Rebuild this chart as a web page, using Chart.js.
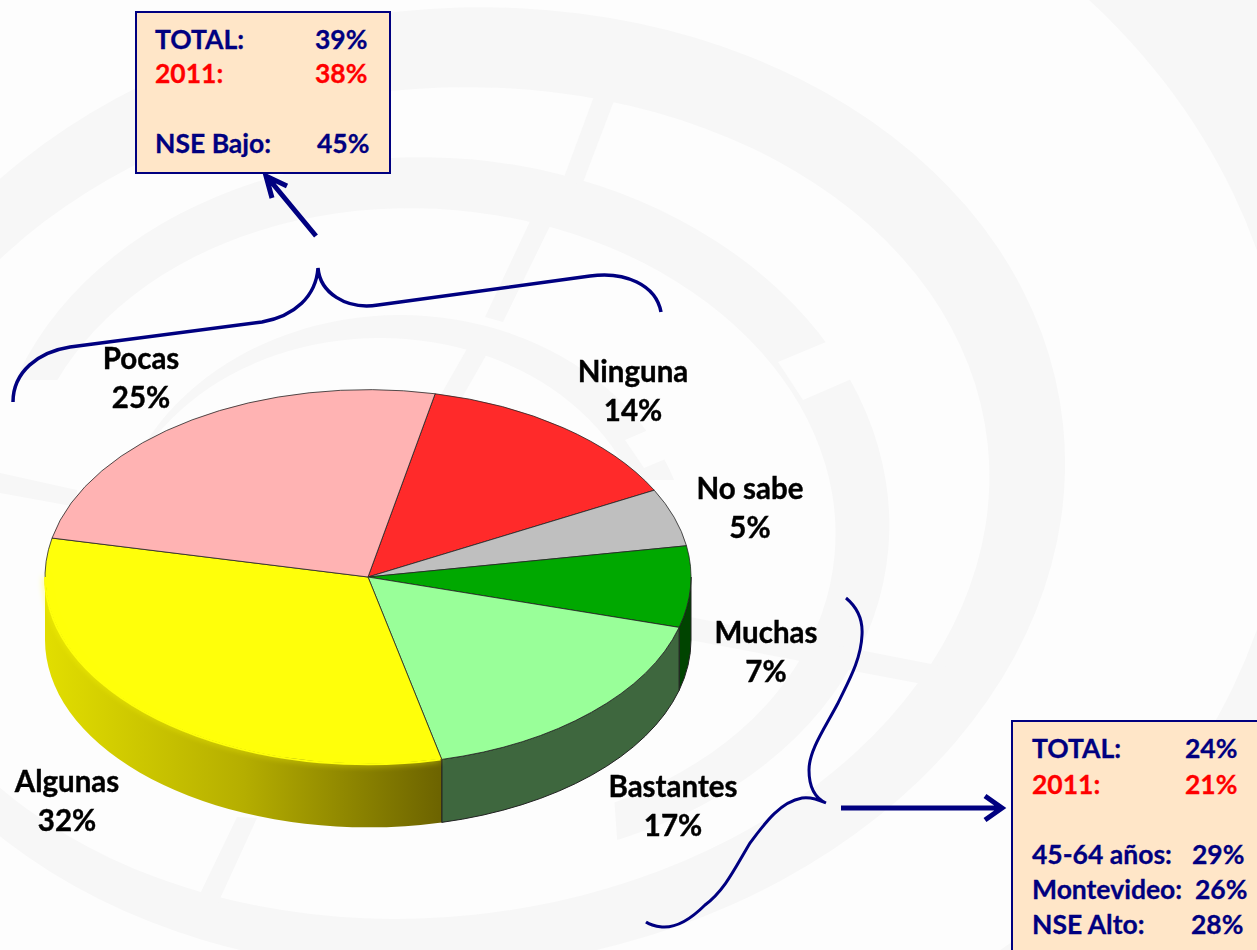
<!DOCTYPE html>
<html>
<head>
<meta charset="utf-8">
<title>Confianza</title>
<script src="https://cdn.jsdelivr.net/npm/chart.js@4"></script>
<style>
  html, body { margin: 0; padding: 0; background: #fdfdfd; }
  #page { position: relative; width: 1257px; height: 950px; overflow: hidden; font-family: Lato, sans-serif; font-weight: 700; }
  #page > svg, #page > canvas { position: absolute; left: 0; top: 0; }
  .box { position: absolute; box-sizing: border-box; background: #ffe6c8; border: 2px solid #000080; color: #000080; font-size: 26.5px; -webkit-text-stroke: 0.3px currentColor; }
  .box span { position: absolute; white-space: nowrap; line-height: 30px; }
  .red { color: #ff0000; }
</style>
</head>
<body>
<div id="page">
  <svg id="fondo" width="1257" height="950">
    <defs>
      <clipPath id="derecha"><rect x="800" y="0" width="457" height="950"/></clipPath>
      <clipPath id="sinAbajo"><polygon points="0,0 1257,0 1257,950 625,950 600,600 60,600 60,380 0,380"/></clipPath>
      <clipPath id="arriba"><rect x="0" y="0" width="1257" height="480"/></clipPath>
    </defs>
    <g fill="#f7f7f7" fill-rule="evenodd">
      <path clip-path="url(#derecha)" d="M-100,-100H1400V1100H-100Z M-210,440a750,646 0 1,0 1500,0a750,646 0 1,0 -1500,0Z"/>
      <path transform="rotate(-6 440 495)" d="M-167,490a617,480 0 1,0 1234,0a617,480 0 1,0 -1234,0Z M-130,502a560,414 0 1,0 1120,0a560,414 0 1,0 -1120,0Z"/>
      <g clip-path="url(#sinAbajo)">
        <path transform="rotate(5 440 510)" d="M-10,510a450,352 0 1,0 900,0a450,352 0 1,0 -900,0Z M23,520a407,310 0 1,0 814,0a407,310 0 1,0 -814,0Z"/>
      </g>
      <g clip-path="url(#arriba)">
        <path d="M110,560a290,245 0 1,0 580,0a290,245 0 1,0 -580,0Z M110,560a270,222 0 1,0 540,0a270,222 0 1,0 -540,0Z"/>
      </g>
      <polygon points="600,80 620,85 582,185 563,180"/>
      <polygon points="532,217 552,222 503,322 485,317"/>
      <polygon points="468,347 488,352 455,410 435,405"/>
      <polygon points="690,617 962,670 954,690 690,640"/>
      <polygon points="237,817 257,818 218,903 198,898"/>
      <polygon points="0,473 77,490 77,507 0,493"/>
    </g>
    <polygon fill="#fdfdfd" points="850,332 870,371 803,400 778,362"/>
    <polygon fill="#fdfdfd" points="660,425 675,455 644,468 625,440"/>
  </svg>
  <canvas id="grafica" width="1257" height="950"></canvas>
  <svg id="marcas" width="1257" height="950" fill="none" stroke="#000080">
    <path stroke-width="3.5" d="M13,402C13,372 38,352 70,347L262,322C295,316 316,296 318,268C320,292 345,310 378,305L590,276C625,271 656,285 661,312"/>
    <path stroke-width="3" d="M846,598C858,608 863,620 862,635C861,660 848,682 838,703C825,728 809,750 809,770C809,787 815,798 826,803C815,798 808,797 802,798C780,802 765,823 750,843C735,868 725,890 705,905C690,920 675,928 662,927C654,926 650,925 646,922"/>
    <path stroke-width="5" d="M316,236L268,178M287,186L266,176L272,198"/>
    <path stroke-width="5" d="M841,808H1000M985,796L1002,808L985,820"/>
  </svg>
  <div class="box" style="left:135px;top:11px;width:256px;height:163px">
    <span style="left:18px;top:11px">TOTAL:</span><span style="left:178px;top:11px">39%</span>
    <span class="red" style="left:18px;top:45px">2011:</span><span class="red" style="left:178px;top:45px">38%</span>
    <span style="left:18px;top:115px">NSE Bajo:</span><span style="left:180px;top:115px">45%</span>
  </div>
  <div class="box" style="left:1011px;top:720px;width:260px;height:240px">
    <span style="left:19px;top:11px">TOTAL:</span><span style="left:172px;top:11px">24%</span>
    <span class="red" style="left:19px;top:47px">2011:</span><span class="red" style="left:172px;top:47px">21%</span>
    <span style="left:19px;top:117px">45-64 años:</span><span style="left:179px;top:117px">29%</span>
    <span style="left:19px;top:152px">Montevideo:</span><span style="left:182px;top:152px">26%</span>
    <span style="left:19px;top:187px">NSE Alto:</span><span style="left:178px;top:187px">28%</span>
  </div>
</div>
<script>
const categorias = ["Ninguna", "No sabe", "Muchas", "Bastantes", "Algunas", "Pocas"];
const valores = [14, 5, 7, 17, 32, 25];

const coloresCara = ["#ff2a2a", "#bfbfbf", "#00a800", "#99ff99", "#ffff0a", "#ffb3b3"];
const coloresLado = [null, null, "#004400", "#3e673e", "amarillo", null];
const posEtiquetas = [[633, 372], [750, 489], [766, 633], [673, 787], [67, 782], [141, 359]];

const centroX = 368, centroY = 577;
const radio = 323, aplaste = 0.58, alto = 63;

// pinta el costado del queso con los arcos que calculo Chart.js
function pintarLados(chart) {
    const ctx = chart.ctx;
    const ry = radio * aplaste;
    chart.getDatasetMeta(0).data.forEach((arco, i) => {
        if (!coloresLado[i]) return;
        [0, Math.PI * 2, -Math.PI * 2].forEach(k => {
            const a0 = Math.max(arco.startAngle + k, 0);
            const a1 = Math.min(arco.endAngle + k, Math.PI);
            if (a1 <= a0) return;
            ctx.beginPath();
            ctx.ellipse(centroX, centroY, radio, ry, 0, a0, a1);
            ctx.ellipse(centroX, centroY + alto, radio, ry, 0, a1, a0, true);
            ctx.closePath();
            if (coloresLado[i] === "amarillo") {
                const g = ctx.createLinearGradient(centroX - radio, 0, centroX + Math.cos(a0) * radio, 0);
                g.addColorStop(0, "#e2de00");
                g.addColorStop(0.5, "#b5ae00");
                g.addColorStop(1, "#6c6300");
                ctx.fillStyle = g;
                ctx.fill();
                ctx.beginPath();
                ctx.moveTo(centroX + Math.cos(a0) * radio, centroY + Math.sin(a0) * ry);
                ctx.lineTo(centroX + Math.cos(a0) * radio, centroY + Math.sin(a0) * ry + alto);
                ctx.strokeStyle = "#222";
                ctx.lineWidth = 1;
                ctx.stroke();
            } else {
                ctx.fillStyle = coloresLado[i];
                ctx.fill();
                ctx.strokeStyle = "#222";
                ctx.lineWidth = 1;
                ctx.stroke();
            }
        });
    });
}

// borde suave entre la cara amarilla y su costado
function pintarBrillo(chart) {
    const ctx = chart.ctx;
    const arco = chart.getDatasetMeta(0).data[4];
    ctx.save();
    ctx.beginPath();
    ctx.ellipse(centroX, centroY, radio, radio * aplaste, 0, arco.startAngle + 0.004, Math.min(arco.endAngle, Math.PI));
    ctx.strokeStyle = coloresCara[4];
    ctx.lineWidth = 2;
    ctx.shadowColor = coloresCara[4];
    ctx.shadowBlur = 6;
    ctx.stroke();
    ctx.restore();
}

const quesoPlugin = {
    id: "queso",
    beforeDatasetsDraw(chart) {
        const ctx = chart.ctx;
        pintarLados(chart);
        const arco = chart.getDatasetMeta(0).data[0];
        ctx.save();
        ctx.translate(centroX, centroY);
        ctx.scale(1, aplaste);
        ctx.translate(-arco.x, -arco.y);
    },
    afterDatasetsDraw(chart) {
        const ctx = chart.ctx;
        ctx.restore();
        pintarBrillo(chart);
        ctx.fillStyle = "#000";
        ctx.strokeStyle = "#000";
        ctx.lineWidth = 0.4;
        ctx.font = "700 29.5px Lato";
        ctx.textAlign = "center";
        ctx.textBaseline = "middle";
        categorias.forEach((c, i) => {
            const p = posEtiquetas[i];
            ctx.fillText(c, p[0], p[1]);
            ctx.strokeText(c, p[0], p[1]);
            ctx.fillText(valores[i] + "%", p[0], p[1] + 39);
            ctx.strokeText(valores[i] + "%", p[0], p[1] + 39);
        });
    }
};

new Chart(document.getElementById("grafica"), {
    type: "pie",
    data: {
        labels: categorias,
        datasets: [{
            data: valores,
            backgroundColor: coloresCara,
            borderColor: "#222",
            borderWidth: 1,
            clip: false
        }]
    },
    options: {
        responsive: false,
        animation: false,
        rotation: 12,
        radius: radio,
        layout: { padding: { right: 1257 - centroX * 2 } },
        plugins: { legend: { display: false }, tooltip: { enabled: false } }
    },
    plugins: [quesoPlugin]
});
</script>
</body>
</html>
